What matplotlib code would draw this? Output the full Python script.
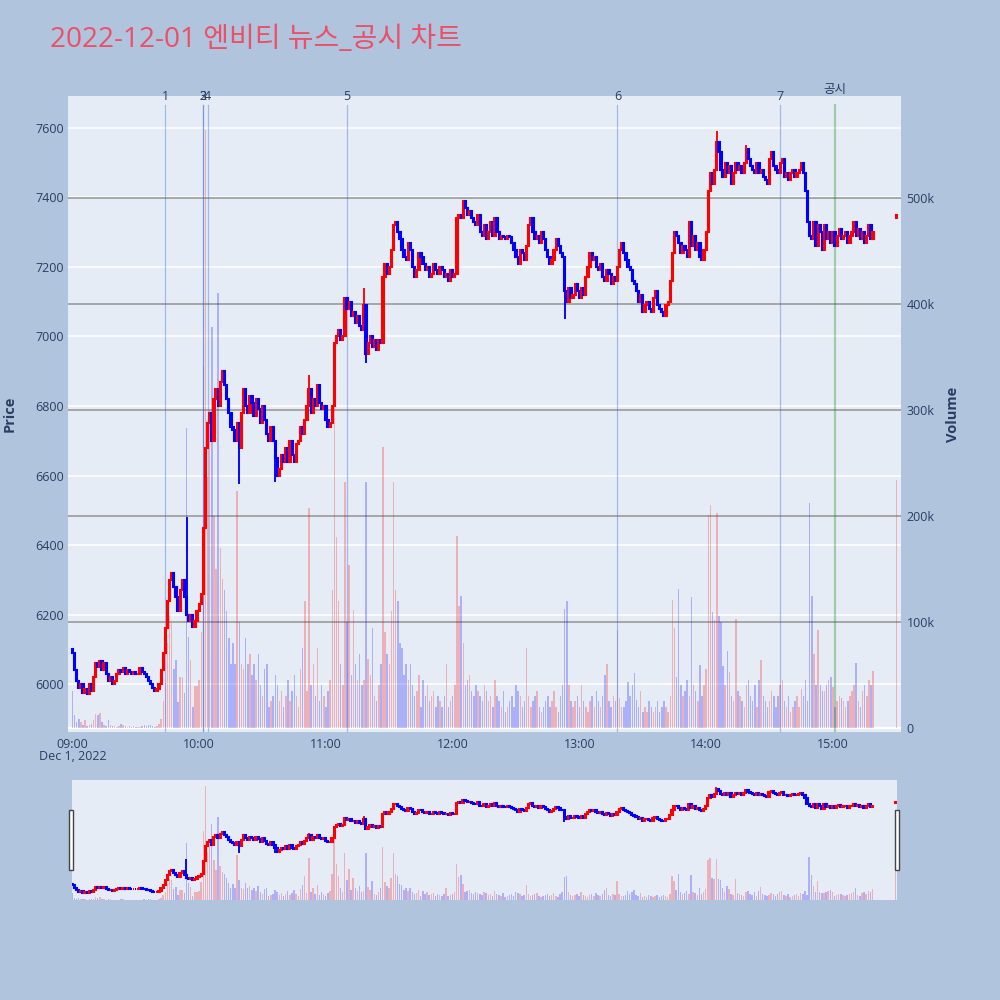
import matplotlib
matplotlib.use('Agg')
import matplotlib.pyplot as plt
from matplotlib.patches import Rectangle
import numpy as np

plt.rcParams['font.family'] = ['Open Sans', 'Noto Sans CJK KR', 'DejaVu Sans']

title = '2022-12-01 엔비티 뉴스_공시 차트'
date_label = 'Dec 1, 2022'

# ---- data (1-minute candles from 09:00) ----
first_open = 6100
closes = [
    6090, 6040, 6010, 5990, 6000, 5975, 5985, 5970, 6000, 5980,
    6020, 6060, 6050, 6065, 6040, 6060, 6030, 6010, 6020, 6000,
    6010, 6030, 6040, 6035, 6045, 6030, 6040, 6035, 6030, 6035,
    6030, 6030, 6045, 6035, 6030, 6020, 6010, 6000, 5990, 5980,
    5985, 6000, 6040, 6090, 6160, 6240, 6300, 6320, 6280, 6250,
    6210, 6270, 6300, 6250, 6200, 6180, 6200, 6165, 6180, 6210,
    6230, 6260, 6450, 6680, 6750, 6780, 6700, 6820, 6850, 6800,
    6870, 6900, 6860, 6820, 6780, 6740, 6730, 6700, 6750, 6680,
    6780, 6850, 6800, 6780, 6830, 6810, 6770, 6820, 6790, 6750,
    6800, 6760, 6720, 6700, 6740, 6700, 6650, 6600, 6620, 6660,
    6640, 6680, 6640, 6700, 6660, 6640, 6690, 6700, 6740, 6720,
    6760, 6800, 6850, 6780, 6820, 6800, 6860, 6810, 6790, 6800,
    6760, 6740, 6750, 6800, 6980, 7000, 7020, 6990, 7000, 7110,
    7080, 7100, 7060, 7070, 7040, 7060, 7030, 7020, 7090, 6950,
    6980, 7000, 6970, 6990, 6960, 6990, 6980, 7170, 7210, 7180,
    7200, 7250, 7320, 7330, 7300, 7280, 7250, 7230, 7220, 7270,
    7250, 7200, 7170, 7190, 7240, 7230, 7210, 7190, 7200, 7170,
    7180, 7210, 7190, 7180, 7200, 7190, 7170, 7180, 7160, 7190,
    7170, 7180, 7340, 7350, 7340, 7390, 7370, 7350, 7360, 7340,
    7330, 7320, 7350, 7300, 7290, 7320, 7280, 7300, 7330, 7290,
    7340, 7300, 7280, 7290, 7285, 7280, 7290, 7285, 7270, 7250,
    7230, 7210, 7250, 7240, 7220, 7260, 7320, 7340, 7300, 7280,
    7290, 7270, 7300, 7280, 7250, 7230, 7210, 7220, 7250, 7280,
    7260, 7240, 7230, 7130, 7100, 7140, 7110, 7120, 7150, 7130,
    7110, 7140, 7120, 7170, 7200, 7240, 7220, 7230, 7200, 7190,
    7210, 7170, 7160, 7190, 7180, 7150, 7170, 7160, 7200, 7250,
    7270, 7240, 7220, 7200, 7190, 7160, 7150, 7130, 7100, 7120,
    7070, 7090, 7100, 7080, 7070, 7110, 7130, 7090, 7080, 7070,
    7060, 7090, 7100, 7160, 7240, 7300, 7290, 7270, 7240, 7260,
    7250, 7230, 7330, 7260, 7290, 7250, 7270, 7230, 7220, 7250,
    7300, 7420, 7470, 7440, 7480, 7560, 7530, 7480, 7460, 7500,
    7470, 7490, 7440, 7470, 7500, 7480, 7490, 7470, 7500, 7540,
    7510, 7490, 7480, 7470, 7500, 7470, 7480, 7460, 7450, 7440,
    7510, 7530, 7490, 7480, 7470, 7500, 7510, 7460, 7470, 7450,
    7470, 7480, 7460, 7470, 7480, 7500, 7470, 7420, 7330, 7290,
    7280, 7330, 7260, 7320, 7300, 7250, 7320, 7280, 7300, 7270,
    7300, 7260, 7290, 7310, 7280, 7290, 7300, 7270, 7290, 7300,
    7330, 7290, 7310, 7280, 7300, 7270, 7290, 7320, 7280, 7300,
]
volumes_k = [
    35, 12, 5, 8, 5, 3, 7, 2, 3, 4,
    7, 13, 12, 14, 5, 3, 2, 7, 3, 2,
    2, 1, 2, 4, 3, 2, 1, 2, 1, 2,
    1, 1, 1, 2, 3, 2, 3, 3, 2, 1,
    2, 4, 8, 25, 42, 80, 105, 99, 55, 64,
    24, 48, 48, 33, 283, 86, 64, 20, 39, 39,
    45, 90, 341, 564, 237, 300, 378, 200, 150, 410,
    170, 140, 130, 110, 85, 60, 80, 60, 223, 100,
    60, 55, 85, 60, 70, 50, 60, 45, 70, 40,
    30, 55, 60, 20, 25, 30, 50, 40, 25, 35,
    20, 30, 45, 25, 35, 50, 30, 20, 55, 75,
    120, 35, 207, 40, 60, 30, 75, 25, 40, 30,
    20, 35, 45, 130, 316, 180, 120, 60, 40, 232,
    100, 154, 50, 111, 60, 45, 70, 40, 45, 232,
    65, 50, 94, 30, 25, 40, 60, 265, 90, 70,
    60, 110, 232, 130, 120, 80, 75, 50, 60, 45,
    60, 40, 30, 35, 50, 20, 45, 30, 40, 25,
    30, 35, 20, 30, 25, 20, 30, 60, 20, 25,
    30, 40, 181, 115, 124, 80, 40, 45, 50, 35,
    30, 40, 35, 30, 25, 40, 35, 25, 30, 20,
    45, 30, 25, 20, 35, 15, 20, 25, 30, 20,
    40, 35, 30, 20, 25, 75, 30, 20, 25, 30,
    35, 20, 15, 20, 25, 30, 20, 25, 35, 20,
    15, 30, 40, 112, 120, 40, 25, 20, 25, 30,
    20, 40, 25, 20, 15, 25, 30, 20, 35, 25,
    20, 30, 50, 60, 25, 20, 30, 25, 92, 28,
    20, 20, 25, 43, 30, 40, 52, 26, 20, 35,
    15, 20, 15, 25, 20, 15, 20, 25, 15, 20,
    25, 20, 15, 30, 121, 94, 48, 131, 40, 30,
    35, 45, 30, 123, 40, 35, 25, 59, 30, 40,
    55, 201, 210, 109, 102, 203, 105, 100, 58, 40,
    72, 53, 30, 25, 103, 35, 30, 25, 20, 40,
    45, 30, 25, 40, 20, 45, 64, 30, 25, 20,
    25, 35, 30, 20, 30, 40, 45, 25, 20, 30,
    15, 20, 25, 30, 20, 37, 30, 45, 25, 212,
    124, 70, 40, 92, 40, 35, 35, 40, 45, 48,
    38, 20, 25, 30, 28, 25, 20, 25, 30, 35,
    40, 61, 25, 20, 35, 40, 30, 45, 40, 54,
]
# long wicks (minute index, extreme price)
wick_minutes = [54, 79, 96, 112, 138, 139, 233, 305, 319]
wick_prices = [6480, 6575, 6580, 6890, 7140, 6925, 7050, 7590, 7550]

# closing auction print
auction_time = '15:30'
auction_open = 7340
auction_close = 7350
auction_volume_k = 234

event_labels = ['1', '2', '3', '4', '5', '6', '7']
event_times = ['09:44', '10:02', '10:02', '10:04', '11:10', '13:18', '14:35']
notice_label = '공시'
notice_time = '15:01'

price_ticks = [6000, 6200, 6400, 6600, 6800, 7000, 7200, 7400, 7600]
vol_ticks_k = [0, 100, 200, 300, 400, 500]
vol_tick_labels = ['0', '100k', '200k', '300k', '400k', '500k']
time_ticks = ['09:00', '10:00', '11:00', '12:00', '13:00', '14:00', '15:00']

# ---- helpers ----
def tmin(s):
    hh, mm = s.split(':')
    return (int(hh) - 9) * 60 + int(mm)

n = min(len(closes), len(volumes_k))
c = np.array(closes[:n], dtype=float)
o = np.array([first_open] + closes[:n - 1], dtype=float)
v = np.array(volumes_k[:n], dtype=float) * 1000
t = np.arange(n, dtype=float)
h = np.maximum(o, c)
l = np.minimum(o, c)
for wm, wp in zip(wick_minutes, wick_prices):
    if wm < n:
        h[wm] = max(h[wm], wp)
        l[wm] = min(l[wm], wp)
# append auction
t = np.append(t, tmin(auction_time))
o = np.append(o, auction_open)
c = np.append(c, auction_close)
h = np.append(h, max(auction_open, auction_close))
l = np.append(l, min(auction_open, auction_close))
v = np.append(v, auction_volume_k * 1000)

up = c >= o
RED, BLUE = '#FF0000', '#0000FF'
cols = np.where(up, RED, BLUE)

BG = '#B0C4DE'
PLOT_BG = '#E5ECF6'
TXT = '#2a3f5f'

fig = plt.figure(figsize=(10, 10), dpi=100, facecolor=BG)

W, H = 1000.0, 1000.0
def rect(x0, y0, x1, y1):
    return [x0 / W, 1 - y1 / H, (x1 - x0) / W, (y1 - y0) / H]

XL = (-2.1, 392.2)
PY = (5862, 7692)
VY = (-4000, 596000)

# ---- main panel ----
ax_v = fig.add_axes(rect(68, 96, 901, 732))
ax_v.set_facecolor(PLOT_BG)
for s in ax_v.spines.values():
    s.set_visible(False)
ax_v.set_xlim(*XL)
ax_v.set_ylim(*VY)
ax_v.set_axisbelow(True)

# price gridlines (white) below everything
for p in price_ticks:
    f = (p - PY[0]) / (PY[1] - PY[0])
    ax_v.plot([0, 1], [f, f], transform=ax_v.transAxes, color='white', lw=1.1, zorder=0.4)
# volume gridlines (gray)
for vt in vol_ticks_k[1:]:
    ax_v.axhline(vt * 1000, color='#9a9a9a', lw=1.2, zorder=0.5)
ax_v.axhline(0, color='white', lw=1.6, zorder=0.6)

vcols = [(1, 0, 0, 0.25) if u else (0, 0, 1, 0.25) for u in up]
ax_v.bar(t, v, width=0.7, color=vcols, linewidth=0, zorder=1)

ax_v.set_xticks([tmin(s) for s in time_ticks])
ax_v.set_xticklabels(time_ticks)
ax_v.tick_params(axis='x', length=0, pad=4, labelsize=9, labelcolor=TXT)

ax_p = ax_v.twinx()
for s in ax_p.spines.values():
    s.set_visible(False)
ax_p.set_xlim(*XL)
ax_p.set_ylim(*PY)
ax_p.yaxis.tick_left()
ax_p.set_yticks(price_ticks)
ax_p.set_yticklabels([str(p) for p in price_ticks])
ax_p.tick_params(axis='y', length=0, pad=3, labelsize=9, labelcolor=TXT)

# volume ticks on the right (after twinx)
ax_v.yaxis.tick_right()
ax_v.set_yticks([k * 1000 for k in vol_ticks_k])
ax_v.set_yticklabels(vol_tick_labels)
ax_v.tick_params(axis='y', left=False, labelleft=False, right=True, labelright=True,
                 length=0, pad=4, labelsize=9, labelcolor=TXT)

# event lines
ev_top = (732 - 105) / 636.0
for lab, et in zip(event_labels, event_times):
    x = tmin(et)
    ax_p.axvline(x, ymin=0, ymax=ev_top, color=(0.25, 0.41, 0.88, 0.4), lw=0.9, zorder=1.5)
    ax_p.text(x, (732 - 97) / 636.0, lab, transform=ax_p.get_xaxis_transform(),
              ha='center', va='center', fontsize=9, color=TXT, zorder=5)
xn = tmin(notice_time)
ax_p.axvline(xn, ymin=0, ymax=ev_top, color=(0.0, 0.5, 0.0, 0.3), lw=1.6, zorder=1.5)
ax_p.text(xn, (732 - 89) / 636.0, notice_label, transform=ax_p.get_xaxis_transform(),
          ha='center', va='center', fontsize=9, color=TXT, zorder=5, clip_on=False)

def draw_candles(ax, lw):
    ax.vlines(t, l, h, colors=cols, lw=lw * 0.9, zorder=3)
    ax.bar(t, np.abs(c - o), width=0.6, bottom=np.minimum(o, c), color=cols,
           edgecolor=cols, linewidth=lw, zorder=3)

draw_candles(ax_p, 1.5)

# axis titles
fig.text(10 / W, 1 - 414 / H, 'Price', rotation=90, ha='center', va='center',
         fontsize=10.5, fontweight='bold', color=TXT)
fig.text(953 / W, 1 - 414 / H, 'Volume', rotation=90, ha='center', va='center',
         fontsize=10.5, fontweight='bold', color=TXT)
fig.text(73 / W, 1 - 757 / H, date_label, ha='center', va='center', fontsize=9, color=TXT)

# title
fig.text(50 / W, 1 - 40 / H, title, ha='left', va='center', fontsize=20.2, color='#EB5166')

# ---- range slider ----
ax_sv = fig.add_axes(rect(72, 780, 897, 900))
ax_sv.set_facecolor(PLOT_BG)
for s in ax_sv.spines.values():
    s.set_visible(False)
ax_sv.set_xlim(-0.2, 390.6)
ax_sv.set_ylim(0, VY[1])
ax_sv.set_xticks([])
ax_sv.set_yticks([])
ax_sv.bar(t, v, width=0.7, color=vcols, linewidth=0, zorder=1)
ax_sp = ax_sv.twinx()
for s in ax_sp.spines.values():
    s.set_visible(False)
ax_sp.set_xlim(-0.2, 390.6)
ax_sp.set_ylim(*PY)
ax_sp.set_yticks([])
draw_candles(ax_sp, 1.5)

for x0 in (69, 895):
    fig.add_artist(Rectangle((x0 / W, 1 - 870 / H), 4 / W, 60 / H, transform=fig.transFigure,
                             facecolor='white', edgecolor='#444444', lw=1.0))

fig.savefig('out.png', dpi=100, facecolor=BG)
